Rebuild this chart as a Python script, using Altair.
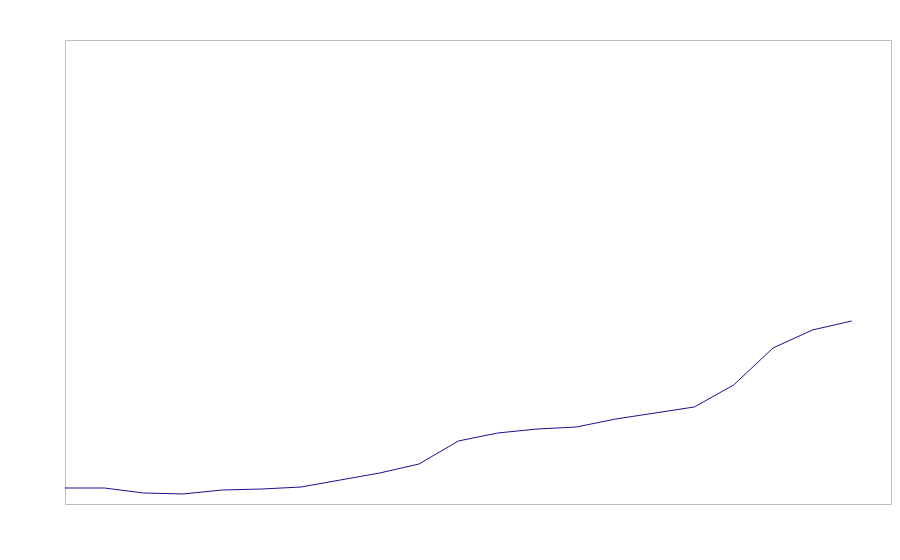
import altair as alt
import pandas as pd

x_index = list(range(21))
values = [3.45, 3.45, 2.37, 2.16, 3.02, 3.23, 3.66, 5.17, 6.68, 8.62,
          13.58, 15.30, 16.16, 16.59, 18.32, 19.61, 20.91, 25.65, 33.62, 37.50, 39.44]

df = pd.DataFrame({"x": x_index, "y": values})

chart = alt.Chart(df).mark_line(color="#2a0a8f", strokeWidth=1).encode(
    x=alt.X("x:Q", scale=alt.Scale(domain=[0, 21], nice=False, zero=False), axis=None),
    y=alt.Y("y:Q", scale=alt.Scale(domain=[0, 100], nice=False), axis=None),
).properties(
    width=826,
    height=464,
    autosize="none",
    padding={"left": 57, "top": 32, "right": 1, "bottom": 4},
).configure_view(stroke="#bdbdbd", strokeWidth=1)

chart.save("out.html", embed_options={"renderer": "svg", "actions": False})
